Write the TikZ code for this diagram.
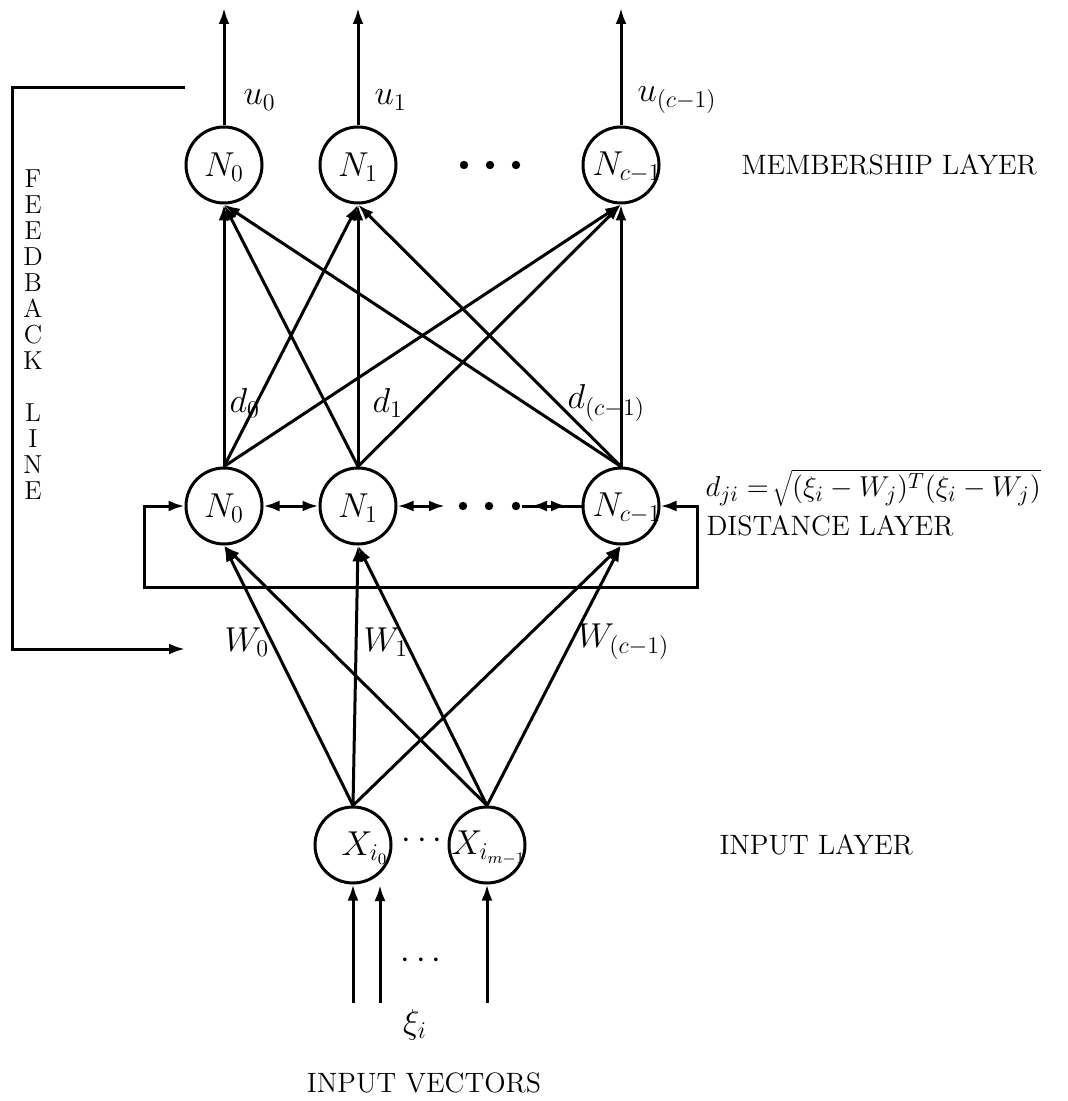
\documentclass[tikz,border=0pt]{standalone}
\usetikzlibrary{arrows.meta}
\begin{document}
\begin{tikzpicture}[x=0.5pt,y=-0.5pt,
  line width=1.5pt,
  >={Latex[length=8pt,width=5.5pt]},
  neuron/.style={circle,draw,line width=1.5pt,minimum size=38pt,inner sep=0pt},
  lbl/.style={font=\fontsize{17}{19}\selectfont,inner sep=1pt},
  caption/.style={font=\fontsize{14}{16}\selectfont,inner sep=0pt},
  dot/.style={circle,fill,inner sep=0pt,minimum size=4.2pt}]
\useasboundingbox (0,0) rectangle (1068,1101);

% ---------- membership layer ----------
\node[neuron] (m0) at (224,165) {};
\node[neuron] (m1) at (358,165) {};
\node[neuron] (m2) at (621,165) {};
\node[lbl] (m0t) at (224,167) {$N_0$};
\node[lbl] (m1t) at (358,167) {$N_1$};
\node[lbl] (m2t) at (627,167) {$N_{c-1}$};
\node[dot] (td1) at (464,165) {};
\node[dot] (td2) at (490,165) {};
\node[dot] (td3) at (516,165) {};
\node[caption,anchor=west] (ml) at (740,165) {MEMBERSHIP LAYER};

% outputs
\coordinate (o0) at (224,8);
\coordinate (o1) at (358,8);
\coordinate (o2) at (621,8);
\draw[->] (m0.north) -- (o0);
\draw[->] (m1.north) -- (o1);
\draw[->] (m2.north) -- (o2);
\node[lbl,anchor=west] (u0) at (240,100) {$u_0$};
\node[lbl,anchor=west] (u1) at (371,100) {$u_1$};
\node[lbl,anchor=west] (u2) at (634,100) {$u_{(c-1)}$};

% ---------- distance layer ----------
\node[neuron] (d0) at (224,506) {};
\node[neuron] (d1) at (358,506) {};
\node[neuron] (d2) at (621,506) {};
\node[lbl] (d0t) at (224,508) {$N_0$};
\node[lbl] (d1t) at (358,508) {$N_1$};
\node[lbl] (d2t) at (627,508) {$N_{c-1}$};

% distance -> membership (full connection)
\foreach \a in {d0,d1,d2}
  \foreach \b in {m0,m1,m2}
    \draw[->] (\a.north) -- (\b.south);
\node[lbl,anchor=west] (ld0) at (226,403) {$d_0$};
\node[lbl,anchor=west] (ld1) at (369,403) {$d_1$};
\node[lbl,anchor=west] (ld2) at (564,403) {$d_{(c-1)}$};

% lateral links
\node[dot] (dd1) at (463,506) {};
\node[dot] (dd2) at (489,506) {};
\node[dot] (dd3) at (516,506) {};
\coordinate (h1) at (445,506);
\coordinate (h2) at (531,506);
\coordinate (h3) at (567,506);
\draw[<->] (d0.east) -- (d1.west);
\draw[<->] (d1.east) -- (h1);
\draw (dd3) -- (d2.west);
\draw[<->] (h2) -- (h3);

% recurrent loop under the distance layer
\coordinate (rl) at (144,587);
\coordinate (rr) at (697,587);
\draw[<->] (d0.west) -| (rl) -- (rr) |- (d2.east);

\node[font=\fontsize{15.8}{18}\selectfont,inner sep=1pt,anchor=west] (form) at (702,488)
  {$d_{ji} \mathrel{=}\!\sqrt{(\xi_i - W_j)^T(\xi_i - W_j)}$};
\node[caption,anchor=west] (dl) at (705,526) {DISTANCE LAYER};

% ---------- input layer ----------
\node[neuron] (x0) at (353,845) {};
\node[neuron] (x1) at (487,845) {};
\node[lbl] (x0t) at (365,848) {$X_{i_0}$};
\node[lbl] (x1t) at (489,848) {$X_{i_{m-1}}$};
\node[lbl] (xdots) at (422,841) {$\cdots$};
\node[caption,anchor=west] (il) at (718,845) {INPUT LAYER};

% input -> distance (full connection)
\foreach \a in {x0,x1}
  \foreach \b in {d0,d1,d2}
    \draw[->] (\a.north) -- (\b.south);
\node[lbl,anchor=west] (w0) at (221,642) {$W_0$};
\node[lbl,anchor=west] (w1) at (360,642) {$W_1$};
\node[lbl,anchor=west] (w2) at (574,642) {$W_{(c-1)}$};

% input vector components
\coordinate (i0) at (353,1003);
\coordinate (i1a) at (380,1003);
\coordinate (i1b) at (380,885);
\coordinate (i2) at (487,1003);
\draw[->] (i0) -- (x0.south);
\draw[->] (i1a) -- (i1b);
\draw[->] (i2) -- (x1.south);
\node[lbl] (idots) at (421,961) {$\cdots$};
\node[lbl] (xi) at (415,1025) {$\xi_i$};
\node[caption] (iv) at (424,1083) {INPUT VECTORS};

% ---------- feedback line ----------
\coordinate (f1) at (185,88);
\coordinate (f2) at (12,88);
\coordinate (f3) at (12,649);
\coordinate (f4) at (185,649);
\draw[->] (f1) -- (f2) -- (f3) -- (f4);
\node[font=\fontsize{13}{13}\selectfont,align=center,anchor=north,inner sep=0pt] (fbl) at (33,168)
  {F\\E\\E\\D\\B\\A\\C\\K\\[13pt]L\\I\\N\\E};
\end{tikzpicture}
\end{document}
